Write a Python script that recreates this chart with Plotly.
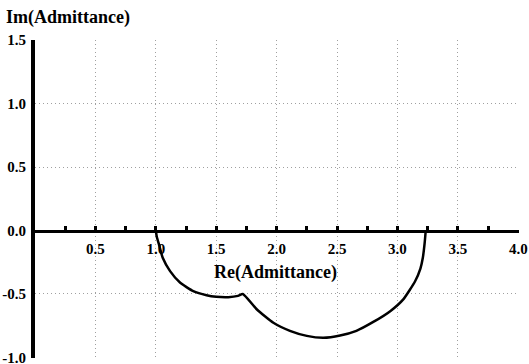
import plotly.graph_objects as go

# Locus of the admittance in the complex plane (Re, Im)
re_vals = [1.000, 1.008, 1.026, 1.057, 1.118, 1.200, 1.310, 1.420, 1.500, 1.600,
           1.680, 1.720, 1.835, 1.973, 2.110, 2.250, 2.387, 2.525, 2.660, 2.800,
           2.940, 3.050, 3.146, 3.190, 3.210, 3.225, 3.234]
im_vals = [0.000, -0.050, -0.110, -0.215, -0.320, -0.410, -0.478, -0.510, -0.522, -0.525,
           -0.515, -0.500, -0.620, -0.727, -0.790, -0.830, -0.845, -0.827, -0.790, -0.720,
           -0.635, -0.540, -0.400, -0.300, -0.215, -0.100, 0.000]

x_ticks = [0.5, 1.0, 1.5, 2.0, 2.5, 3.0, 3.5, 4.0]
x_tick_labels = ["0.5", "1.0", "1.5", "2.0", "2.5", "3.0", "3.5", "4.0"]
y_ticks = [-1.0, -0.5, 0.0, 0.5, 1.0, 1.5]
y_tick_labels = ["-1.0", "-0.5", "0.0", "0.5", "1.0", "1.5"]

FONT = "Liberation Serif"
GRID = "#a0a0a0"

fig = go.Figure()
fig.add_trace(go.Scatter(
    x=re_vals, y=im_vals, mode="lines",
    line=dict(color="black", width=2.5, shape="spline", smoothing=0.5),
    showlegend=False, hoverinfo="skip",
))

fig.update_layout(
    width=529, height=364,
    margin=dict(l=35, r=10, t=40, b=6),
    paper_bgcolor="white", plot_bgcolor="white",
    xaxis=dict(
        range=[0, 4.006], anchor="free", position=0.4, automargin=False,
        tickvals=x_ticks, ticktext=x_tick_labels,
        tickfont=dict(family=FONT, size=15, color="black", weight="bold"),
        ticks="inside", ticklen=4, tickwidth=3, tickcolor="black",
        minor=dict(dtick=0.25, tick0=0, ticks="inside", ticklen=4, tickwidth=3,
                   tickcolor="black", showgrid=False),
        ticklabelstandoff=3, ticklabeloverflow="allow",
        showline=True, linecolor="black", linewidth=3,
        showgrid=True, gridcolor=GRID, griddash="1px,3px", gridwidth=1,
        zeroline=False,
    ),
    yaxis=dict(
        range=[-1.004, 1.5], automargin=False,
        tickvals=y_ticks, ticktext=y_tick_labels,
        tickfont=dict(family=FONT, size=15, color="black", weight="bold"),
        ticks="", ticklabelstandoff=2, ticklabeloverflow="allow",
        showline=True, linecolor="black", linewidth=4,
        showgrid=True, gridcolor=GRID, griddash="1px,3px", gridwidth=1,
        zeroline=False,
    ),
    annotations=[
        dict(text="Im(Admittance)", xref="paper", yref="paper",
             x=-0.064, y=1.072, xanchor="left", yanchor="middle", showarrow=False,
             font=dict(family=FONT, size=18, color="black", weight="bold")),
        dict(text="Re(Admittance)", xref="paper", yref="paper",
             x=0.496, y=0.27, xanchor="center", yanchor="middle", showarrow=False,
             font=dict(family=FONT, size=18, color="black", weight="bold")),
    ],
)

fig.write_html("out.html")
